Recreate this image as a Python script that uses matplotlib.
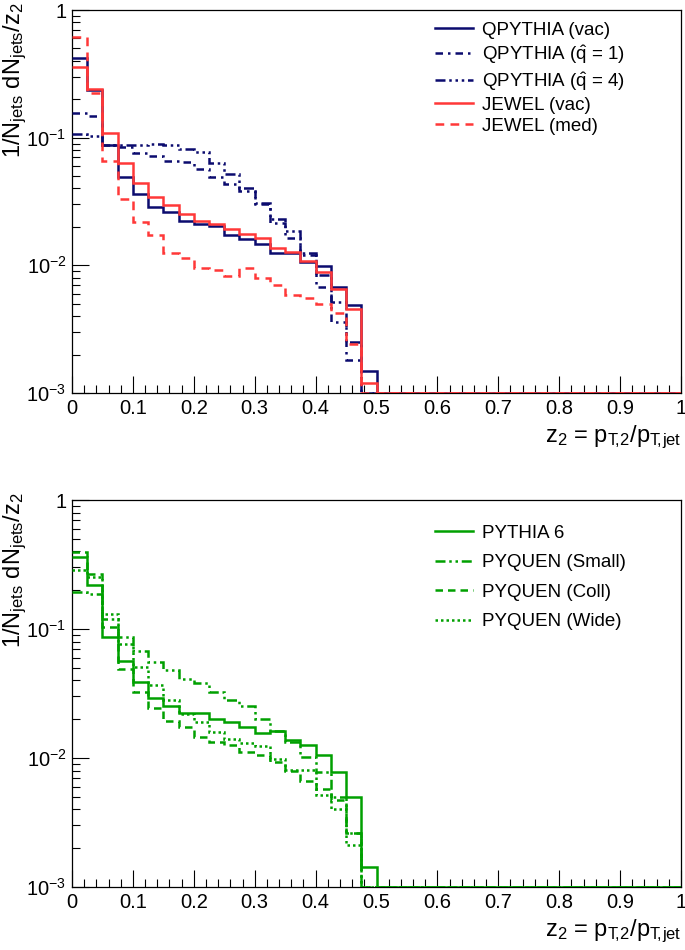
"""
Subjet momentum fraction z2 distributions for quenching models (log scale histograms).
"""

import numpy as np
import matplotlib
matplotlib.use('Agg')
import matplotlib.pyplot as plt

plt.rcParams['font.family'] = ['Liberation Sans', 'DejaVu Sans']
plt.rcParams['mathtext.default'] = 'regular'

navy  = '#0b0b6e'
red   = '#ff3838'
green = '#00a000'

################################################################################
# Data: 40 bins of width 0.025 in z2.             #
################################################################################

edges = np.linspace(0, 1, 41)
tail  = [0.0] * 20

qpythia_vac = [0.42, 0.235, 0.0875, 0.049, 0.036, 0.0287, 0.0262, 0.0222, 0.0209, 0.0202,
               0.0172, 0.0162, 0.0147, 0.0125, 0.0125, 0.0106, 0.0098, 0.0068, 0.0049, 0.00148] + tail
qpythia_q1  = [0.155, 0.148, 0.087, 0.085, 0.0753, 0.0717, 0.0655, 0.064, 0.0564, 0.0493,
               0.043, 0.038, 0.030, 0.0215, 0.0165, 0.012, 0.0068, 0.0036, 0.0018, 0.0] + tail
qpythia_q4  = [0.106, 0.103, 0.088, 0.087, 0.0875, 0.089, 0.087, 0.082, 0.0776, 0.0636,
               0.0515, 0.040, 0.031, 0.023, 0.0185, 0.0125, 0.0084, 0.0052, 0.0025, 0.0] + tail
jewel_vac   = [0.355, 0.24, 0.108, 0.063, 0.044, 0.0344, 0.0296, 0.0253, 0.0222, 0.0212,
               0.0193, 0.0176, 0.0164, 0.0137, 0.0127, 0.0109, 0.0088, 0.0065, 0.00454, 0.00119] + tail
jewel_med   = [0.61, 0.222, 0.066, 0.0328, 0.0218, 0.0172, 0.0125, 0.0114, 0.0095, 0.0092,
               0.0083, 0.0095, 0.0080, 0.0070, 0.0059, 0.0055, 0.0050, 0.0042, 0.0024, 0.0] + tail

pythia6     = [0.36, 0.22, 0.0863, 0.056, 0.0387, 0.0293, 0.0251, 0.0224, 0.0224, 0.0201,
               0.0189, 0.0175, 0.0157, 0.0163, 0.0138, 0.0127, 0.0105, 0.0078, 0.0050, 0.00144] + tail
pyq_small   = [0.195, 0.187, 0.12, 0.086, 0.068, 0.0553, 0.0477, 0.041, 0.038, 0.0322,
               0.028, 0.0255, 0.0199, 0.0163, 0.0133, 0.0101, 0.0078, 0.0050, 0.0026, 0.0] + tail
pyq_coll    = [0.393, 0.265, 0.103, 0.049, 0.0324, 0.0245, 0.0195, 0.0173, 0.0145, 0.0133,
               0.0127, 0.0111, 0.0106, 0.0093, 0.0080, 0.0066, 0.0058, 0.0047, 0.0026, 0.0] + tail
pyq_wide    = [0.289, 0.255, 0.131, 0.077, 0.0506, 0.0365, 0.0282, 0.022, 0.019, 0.0158,
               0.0141, 0.013, 0.0123, 0.0099, 0.0081, 0.0081, 0.0052, 0.0040, 0.0021, 0.0] + tail

ymin = 1e-3

################################################################################
# Plot.                                                                        #
################################################################################

fig = plt.figure(figsize=(6.85, 9.5), dpi=100)
ax1 = fig.add_axes([72/685, 1 - 393/950, 609/685, 383/950])
ax2 = fig.add_axes([72/685, 1 - 887/950, 609/685, 387/950])


def hist(ax, vals, color, ls, label):
    v = np.clip(np.array(vals), ymin, None)
    ax.stairs(v, edges, baseline=None, color=color, ls=ls, lw=1.8, label=label, zorder=3)


hist(ax1, qpythia_vac, navy, '-', 'QPYTHIA (vac)')
hist(ax1, qpythia_q1, navy, (0, (3, 2, 1, 2)), r'QPYTHIA ($\hat{q}$ = 1)')
hist(ax1, qpythia_q4, navy, (0, (4, 1.5, 1, 1.5, 1, 1.5, 1, 1.5)), r'QPYTHIA ($\hat{q}$ = 4)')
hist(ax1, jewel_vac, red, '-', 'JEWEL (vac)')
hist(ax1, jewel_med, red, (0, (3.5, 2.5)), 'JEWEL (med)')

hist(ax2, pythia6, green, '-', 'PYTHIA 6')
hist(ax2, pyq_small, green, (0, (4, 1.5, 1, 1.5, 1, 1.5)), 'PYQUEN (Small)')
hist(ax2, pyq_coll, green, (0, (3, 2)), 'PYQUEN (Coll)')
hist(ax2, pyq_wide, green, (0, (1, 1.2)), 'PYQUEN (Wide)')

ylab = r'1/N$_{jets}$ dN$_{jets}$/z$_2$'
xlab = r'z$_2$ = p$_{T\!,\!2}$/p$_{T\!,\!jet}$'

for ax in (ax1, ax2):
    ax.set_yscale('log')
    ax.set_xlim(0, 1)
    ax.set_ylim(ymin, 1)
    ax.set_xticks(np.arange(0, 1.01, 0.1))
    ax.set_xticklabels(['%g' % t for t in np.arange(0, 1.01, 0.1)])
    ax.set_xticks(np.arange(0, 1.001, 0.02), minor=True)
    ax.set_yticks([1e-3, 1e-2, 1e-1, 1])
    ax.set_yticklabels([r'$10^{-3}$', r'$10^{-2}$', r'$10^{-1}$', '1'])
    ax.tick_params(which='both', direction='in', top=False, right=False, labelsize=14.5)
    ax.tick_params(which='major', length=12, width=0.8, pad=4)
    ax.tick_params(which='minor', length=6, width=0.8)
    ax.tick_params(axis='y', which='minor', labelleft=False)
    for s in ax.spines.values():
        s.set_linewidth(0.9)
    ax.set_ylabel(ylab, fontsize=17, loc='top')
    ax.yaxis.set_label_coords(-0.071, 1.02)
    ax.set_xlabel(xlab, fontsize=17, loc='right')
    ax.xaxis.set_label_coords(1.0, -0.08)

ax1.legend(loc='upper left', bbox_to_anchor=(0.596, 0.97), frameon=False, fontsize=13.5,
           handlelength=2.05, handletextpad=0.45, labelspacing=0.22, borderpad=0, borderaxespad=0)
ax2.legend(loc='upper left', bbox_to_anchor=(0.596, 0.936), frameon=False, fontsize=13.5,
           handlelength=2.05, handletextpad=0.45, labelspacing=0.66, borderpad=0, borderaxespad=0)

fig.savefig('out.png', dpi=100)
plt.close()
